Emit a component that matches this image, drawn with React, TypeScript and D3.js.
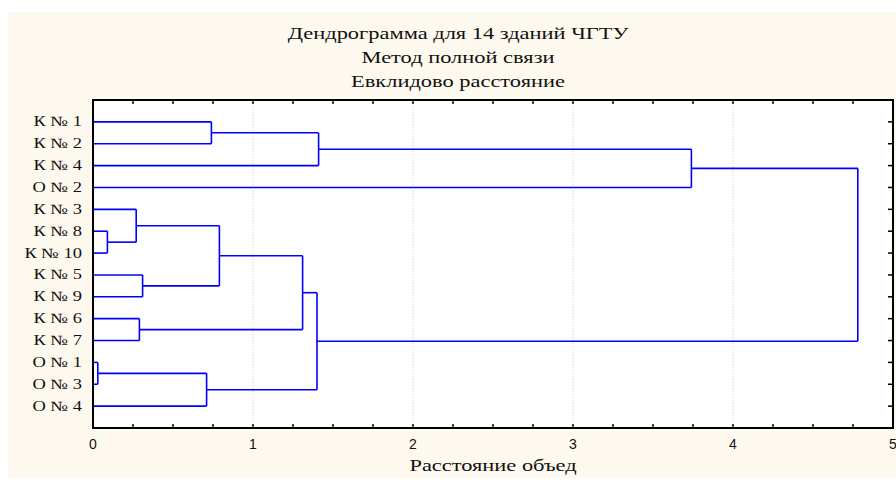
import React from "react";
import * as d3 from "d3";

// leaf labels, in the order they appear top to bottom
const labels = [
  "К № 1",
  "К № 2",
  "К № 4",
  "О № 2",
  "К № 3",
  "К № 8",
  "К № 10",
  "К № 5",
  "К № 9",
  "К № 6",
  "К № 7",
  "О № 1",
  "О № 3",
  "О № 4",
];

// linkage: [left, right, distance]; new node ids start at labels.length
const merges: [number, number, number][] = [
  [0, 1, 0.74],
  [14, 2, 1.41],
  [15, 3, 3.74],
  [5, 6, 0.09],
  [4, 17, 0.27],
  [7, 8, 0.31],
  [18, 19, 0.79],
  [9, 10, 0.29],
  [20, 21, 1.31],
  [11, 12, 0.03],
  [23, 13, 0.71],
  [22, 24, 1.4],
  [16, 25, 4.78],
];

const xTicks = [0, 1, 2, 3, 4, 5];
const titleLines = ["Дендрограмма для 14 зданий ЧГТУ", "Метод полной связи", "Евклидово расстояние"];
const xTitle = "Расстояние объед";

const W = 896;
const H = 483;
const PLOT = { left: 93, right: 893, top: 100, bottom: 428 };
const BLUE = "#0000ff";
const SERIF = "'Liberation Serif', 'Times New Roman', serif";
// the original text is stretched sideways
const STRETCH = 1.32;

export default function App() {
  const x = d3.scaleLinear().domain([0, 5]).range([PLOT.left, PLOT.right]);
  const y = d3.scalePoint<number>().domain(d3.range(labels.length)).range([PLOT.top, PLOT.bottom]).padding(1);

  // node positions: leaves sit on y scale, merged nodes at midpoint of children
  const nodeY: number[] = labels.map((_, i) => y(i) as number);
  const nodeH: number[] = labels.map(() => 0);
  merges.forEach(([a, b, h]) => {
    nodeY.push((nodeY[a] + nodeY[b]) / 2);
    nodeH.push(h);
  });

  const minor = d3.range(0, 5.0001, 0.25);

  return (
    <svg
      width={W}
      height={H}
      style={{ position: "absolute", left: 0, top: 0, display: "block" }}
    >
      <rect x={0} y={0} width={W} height={H} fill="#ffffff" />
      <rect x={8} y={12} width={W - 8} height={466} fill="#fdf9ef" />
      <rect
        x={PLOT.left}
        y={PLOT.top}
        width={PLOT.right - PLOT.left}
        height={PLOT.bottom - PLOT.top}
        fill="#ffffff"
      />

      {titleLines.map((t, i) => (
        <text
          key={i}
          transform={`translate(458,${39 + i * 24}) scale(${STRETCH},1)`}
          textAnchor="middle"
          fontFamily={SERIF}
          fontSize={17}
          fill="#111"
        >
          {t}
        </text>
      ))}

      {/* grid */}
      {xTicks.slice(1, -1).map((v) => (
        <line
          key={v}
          x1={x(v)}
          x2={x(v)}
          y1={PLOT.top}
          y2={PLOT.bottom}
          stroke="#c8c8c8"
          strokeWidth={1}
          strokeDasharray="1,2"
        />
      ))}

      {/* dendrogram links */}
      <g stroke={BLUE} strokeWidth={1.6} fill="none">
        {merges.map(([a, b, h], i) => (
          <g key={i}>
            <line x1={x(h)} x2={x(h)} y1={nodeY[a]} y2={nodeY[b]} />
            <line x1={x(nodeH[a])} x2={x(h)} y1={nodeY[a]} y2={nodeY[a]} />
            <line x1={x(nodeH[b])} x2={x(h)} y1={nodeY[b]} y2={nodeY[b]} />
          </g>
        ))}
      </g>

      {/* minor ticks top and bottom, row ticks on the right */}
      <g stroke="#000" strokeWidth={1.5}>
        {minor.map((v) => (
          <g key={v}>
            <line x1={x(v)} x2={x(v)} y1={PLOT.top} y2={PLOT.top + 4} />
            <line x1={x(v)} x2={x(v)} y1={PLOT.bottom} y2={PLOT.bottom - 4} />
          </g>
        ))}
        {labels.map((_, i) => (
          <line key={i} x1={PLOT.right} x2={PLOT.right - 5} y1={y(i)} y2={y(i)} />
        ))}
      </g>

      <rect
        x={PLOT.left}
        y={PLOT.top}
        width={PLOT.right - PLOT.left}
        height={PLOT.bottom - PLOT.top}
        fill="none"
        stroke="#000"
        strokeWidth={2}
      />

      {/* y labels */}
      {labels.map((l, i) => (
        <text
          key={l}
          transform={`translate(82,${(y(i) as number) + 4.5}) scale(${STRETCH},1)`}
          textAnchor="end"
          fontFamily={SERIF}
          fontSize={14}
          fill="#111"
          style={{ whiteSpace: "pre" }}
        >
          {l}
        </text>
      ))}

      {/* x tick labels */}
      {xTicks.map((v) => (
        <text
          key={v}
          x={x(v)}
          y={PLOT.bottom + 21}
          textAnchor="middle"
          fontFamily="'Liberation Sans', Arial, sans-serif"
          fontSize={14}
          fill="#111"
        >
          {v}
        </text>
      ))}

      <text
        transform={`translate(${(PLOT.left + PLOT.right) / 2},471) scale(${STRETCH},1)`}
        textAnchor="middle"
        fontFamily={SERIF}
        fontSize={17}
        fill="#111"
      >
        {xTitle}
      </text>
    </svg>
  );
}
